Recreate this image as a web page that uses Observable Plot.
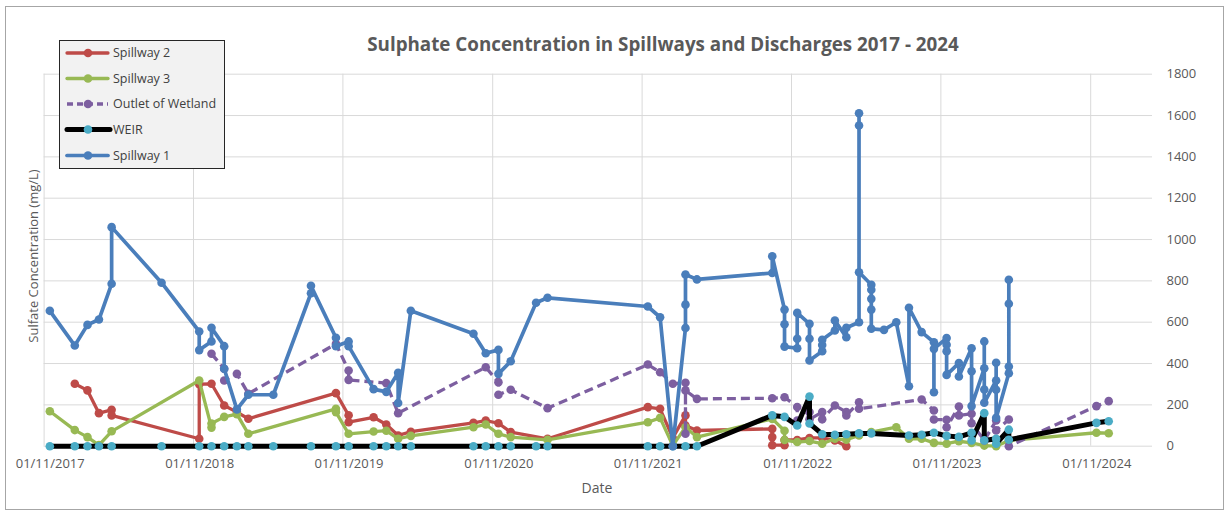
<!DOCTYPE html>
<html>
<head>
<meta charset="utf-8">
<script src="https://cdn.jsdelivr.net/npm/d3@7"></script>
<script src="https://cdn.jsdelivr.net/npm/@observablehq/plot@0.6"></script>
<style>
  body { margin: 0; background: #fff; font-family: "Open Sans", sans-serif; }
  #wrap { position: relative; width: 1227px; height: 514px; overflow: hidden; background: #fff; }
  #frame { position: absolute; left: 5px; top: 6px; width: 1219px; height: 504px; border: 1px solid #a6a6a6; box-sizing: border-box; pointer-events: none; }
  #chart { position: absolute; left: 0; top: 0; }
  #title { position: absolute; left: 663px; top: 44px; transform: translate(-50%, -50%); font-weight: 700; font-size: 18.8px; color: #595959; white-space: nowrap; }
  #ylabel { position: absolute; left: 33px; top: 256px; transform: translate(-50%, -50%) rotate(-90deg); font-size: 13px; color: #595959; white-space: nowrap; }
  #xlabel { position: absolute; left: 597px; top: 487px; transform: translate(-50%, -50%); font-size: 14px; color: #595959; }
  #legend { position: absolute; left: 59px; top: 40px; width: 166px; height: 129px; border: 1.5px solid #262626; background: #f2f2f2; box-sizing: border-box; }
</style>
</head>
<body>
<div id="wrap">
  <div id="chart"></div>
  <div id="title">Sulphate Concentration in Spillways and Discharges 2017 - 2024</div>
  <div id="ylabel">Sulfate Concentration (mg/L)</div>
  <div id="xlabel">Date</div>
  <div id="legend"></div>
  <div id="frame"></div>
</div>
<script>
// ---- Data (month of sample, sulphate mg/L) ----
const spillway2 = [
  ["2018-01",302],["2018-02",270],["2018-03",160],["2018-04",176],["2018-04",149],
  ["2018-11",36],["2018-11",300],["2018-12",302],["2019-01",197],["2019-02",165],["2019-03",133],
  ["2019-10",257],["2019-11",150],["2019-11",116],["2020-01",140],["2020-02",105],["2020-03",52],["2020-04",70],
  ["2020-09",113],["2020-10",124],["2020-11",111],["2020-12",68],["2021-03",36],
  ["2021-11",189],["2021-12",181],["2022-01",40],["2022-02",149],["2022-02",100],["2022-03",76],
  ["2022-09",84],["2022-09",44],["2022-09",5],["2022-10",5],["2022-10",30],["2022-11",30],
  ["2022-12",40],["2023-01",40],["2023-02",28],["2023-03",0]
];
const spillway3 = [
  ["2017-11",169],["2018-01",78],["2018-02",44],["2018-03",5],["2018-04",72],
  ["2018-11",318],["2018-12",90],["2018-12",110],["2019-01",142],["2019-02",155],["2019-03",60],
  ["2019-10",181],["2019-10",165],["2019-11",60],["2020-01",71],["2020-02",75],["2020-03",36],["2020-04",50],
  ["2020-09",92],["2020-10",105],["2020-11",60],["2020-12",44],["2021-03",31],
  ["2021-11",116],["2021-12",137],["2022-01",3],["2022-02",92],["2022-03",44],
  ["2022-09",132],["2022-10",75],["2022-10",30],["2022-11",20],["2022-12",25],["2023-01",12],
  ["2023-02",36],["2023-03",31],["2023-04",52],["2023-05",68],["2023-07",92],["2023-08",36],
  ["2023-09",36],["2023-10",16],["2023-11",12],["2023-12",24],["2024-01",16],["2024-02",3],
  ["2024-03",0],["2024-04",28],["2024-11",65],["2024-12",63]
];
const outletWetland = [
  ["2018-12",447],["2019-01",375],["2019-01",318],["2019-02",350],["2019-03",254],
  ["2019-10",495],["2019-11",366],["2019-11",321],["2020-02",305],["2020-03",160],
  ["2020-10",382],["2020-11",310],["2020-11",249],["2020-12",273],["2021-03",184],
  ["2021-11",395],["2021-12",358],["2022-01",302],["2022-02",307],["2022-02",60],["2022-02",270],["2022-03",229],
  ["2022-09",232],["2022-10",237],["2022-11",190],["2022-11",124],["2022-12",165],["2022-12",130],
  ["2023-01",165],["2023-01",130],["2023-02",197],["2023-03",165],["2023-03",149],["2023-04",213],["2023-04",181],
  ["2023-09",226],["2023-10",173],["2023-10",129],["2023-11",128],["2023-11",92],["2023-12",192],["2023-12",149],
  ["2024-01",157],["2024-01",111],["2024-02",28],["2024-03",124],["2024-03",76],["2024-04",129],["2024-04",0],
  ["2024-11",194],["2024-12",218]
];
const weir = [
  ["2017-11",0],["2018-01",0],["2018-02",0],["2018-03",0],["2018-04",0],["2018-08",0],
  ["2018-11",0],["2018-12",0],["2019-01",0],["2019-02",0],["2019-03",0],["2019-05",0],
  ["2019-08",0],["2019-10",0],["2019-11",0],["2020-01",0],["2020-02",0],["2020-03",0],["2020-04",0],
  ["2020-09",0],["2020-10",0],["2020-11",0],["2020-12",0],["2021-02",0],["2021-03",0],
  ["2021-11",0],["2021-12",0],["2022-01",0],["2022-02",0],["2022-03",0],
  ["2022-09",149],["2022-10",142],["2022-11",100],["2022-12",240],["2022-12",110],["2023-01",58],
  ["2023-02",55],["2023-03",58],["2023-04",62],["2023-05",62],["2023-08",52],["2023-09",55],
  ["2023-10",65],["2023-11",50],["2023-12",45],["2024-01",65],["2024-01",28],["2024-02",160],["2024-02",28],
  ["2024-03",36],["2024-03",12],["2024-04",80],["2024-04",31],["2024-11",113],["2024-12",121]
];
const spillway1 = [
  ["2017-11",655],["2018-01",487],["2018-02",587],["2018-03",613],["2018-04",786],["2018-04",1060],
  ["2018-08",791],["2018-11",555],["2018-11",465],["2018-12",507],["2018-12",573],["2019-01",484],["2019-01",375],
  ["2019-02",178],["2019-03",249],["2019-05",249],["2019-08",740],["2019-08",776],["2019-10",525],["2019-10",484],
  ["2019-11",507],["2019-11",484],["2020-01",276],["2020-02",263],["2020-03",355],["2020-03",209],["2020-04",655],
  ["2020-09",544],["2020-10",450],["2020-11",466],["2020-11",350],["2020-12",411],["2021-02",694],["2021-03",718],
  ["2021-11",676],["2021-12",624],["2022-01",0],["2022-02",572],["2022-02",685],["2022-02",831],["2022-03",807],
  ["2022-09",838],["2022-09",919],["2022-10",661],["2022-10",590],["2022-10",482],["2022-11",474],["2022-11",520],["2022-11",645],
  ["2022-12",592],["2022-12",520],["2022-12",415],["2023-01",460],["2023-01",490],["2023-01",515],["2023-02",560],["2023-02",608],
  ["2023-03",527],["2023-03",573],["2023-04",600],["2023-04",1611],["2023-04",1552],["2023-04",842],
  ["2023-05",781],["2023-05",757],["2023-05",713],["2023-05",661],["2023-05",568],["2023-06",563],["2023-07",600],
  ["2023-08",290],["2023-08",670],["2023-09",552],["2023-10",503],["2023-10",261],["2023-10",471],
  ["2023-11",523],["2023-11",491],["2023-11",460],["2023-11",345],["2023-12",402],["2023-12",337],
  ["2024-01",474],["2024-01",363],["2024-01",194],["2024-02",377],["2024-02",507],["2024-02",274],["2024-02",210],
  ["2024-03",318],["2024-03",404],["2024-03",273],["2024-03",137],["2024-04",353],["2024-04",386],["2024-04",689],["2024-04",805]
];
const seriesNames = ["Spillway 2","Spillway 3","Outlet of Wetland","WEIR","Spillway 1"];
const yTicks = [0,200,400,600,800,1000,1200,1400,1600,1800];
const xGridDates = ["2017-11-01","2018-11-01","2019-11-01","2020-11-01","2021-11-01","2022-11-01","2023-11-01","2024-11-01"];
const xTickLabels = ["01/11/2017","01/11/2018","01/11/2019","01/11/2020","01/11/2021","01/11/2022","01/11/2023","01/11/2024"];

// ---- Styles ----
const styles = {
  "Spillway 2": {line: "#be4b48", marker: "#be4b48", width: 3.3, dash: null},
  "Spillway 3": {line: "#98b954", marker: "#98b954", width: 3.3, dash: null},
  "Outlet of Wetland": {line: "#7d5fa0", marker: "#7d5fa0", width: 3.3, dash: "9,5"},
  "WEIR": {line: "#000000", marker: "#4bacc6", width: 5, dash: null},
  "Spillway 1": {line: "#4a7ebb", marker: "#4a7ebb", width: 3.7, dash: null}
};
const seriesData = [spillway2, spillway3, outletWetland, weir, spillway1];

const toDate = m => new Date(m + "-15T00:00:00Z");
const rowsOf = (arr, name) => arr.map(([m, v]) => ({date: toDate(m), value: v, series: name}));

const gridDates = xGridDates.map(s => new Date(s + "T00:00:00Z"));
const labelDates = xGridDates.map(s => new Date(s.slice(0, 8) + "16T00:00:00Z"));

const marks = [
  Plot.gridY(yTicks, {stroke: "#d9d9d9", strokeOpacity: 1, strokeWidth: 1}),
  Plot.gridX(gridDates, {stroke: "#d9d9d9", strokeOpacity: 1, strokeWidth: 1}),
  Plot.axisY(yTicks, {anchor: "right", tickSize: 0, tickPadding: 14, fontSize: 13, label: null, tickFormat: d => String(d)}),
  Plot.axisX(labelDates, {anchor: "bottom", tickSize: 0, tickPadding: 13, fontSize: 13, label: null,
    tickFormat: d => xTickLabels[labelDates.findIndex(t => +t === +d)]})
];
seriesNames.forEach((name, i) => {
  const s = styles[name];
  const rows = rowsOf(seriesData[i], name);
  marks.push(Plot.line(rows, {x: "date", y: "value", stroke: s.line, strokeWidth: s.width,
    strokeDasharray: s.dash, strokeLinejoin: "round", strokeLinecap: s.dash ? "butt" : "round"}));
  marks.push(Plot.dot(rows, {x: "date", y: "value", r: 4.3, fill: s.marker, stroke: "none"}));
});

const chart = Plot.plot({
  width: 1227,
  height: 514,
  marginLeft: 43.6,
  marginRight: 75,
  marginTop: 73.7,
  marginBottom: 68.3,
  style: {fontFamily: "'Open Sans', sans-serif", color: "#595959", background: "transparent"},
  x: {type: "utc", domain: [new Date("2017-11-01T00:00:00Z"), new Date("2025-04-01T00:00:00Z")]},
  y: {domain: [0, 1800]},
  marks
});
document.getElementById("chart").appendChild(chart);

// ---- Legend ----
const rowsY = [13.5, 39, 64.5, 90, 116];
let svg = `<svg width="163" height="126" style="position:absolute;left:0;top:0;font-family:'Open Sans',sans-serif">`;
seriesNames.forEach((name, i) => {
  const s = styles[name];
  const y = rowsY[i] - 1.5;
  svg += `<line x1="7" x2="${name === "WEIR" ? 50 : 48}" y1="${y}" y2="${y}" stroke="${s.line}" stroke-width="${s.width}" ${s.dash ? `stroke-dasharray="6,4"` : 'stroke-linecap="round"'}/>`;
  svg += `<circle cx="28" cy="${y}" r="4.3" fill="${s.marker}"/>`;
  svg += `<text x="53" y="${y}" dy="0.35em" font-size="12.5" fill="#404040">${name}</text>`;
});
svg += `</svg>`;
document.getElementById("legend").innerHTML = svg;
</script>
</body>
</html>
